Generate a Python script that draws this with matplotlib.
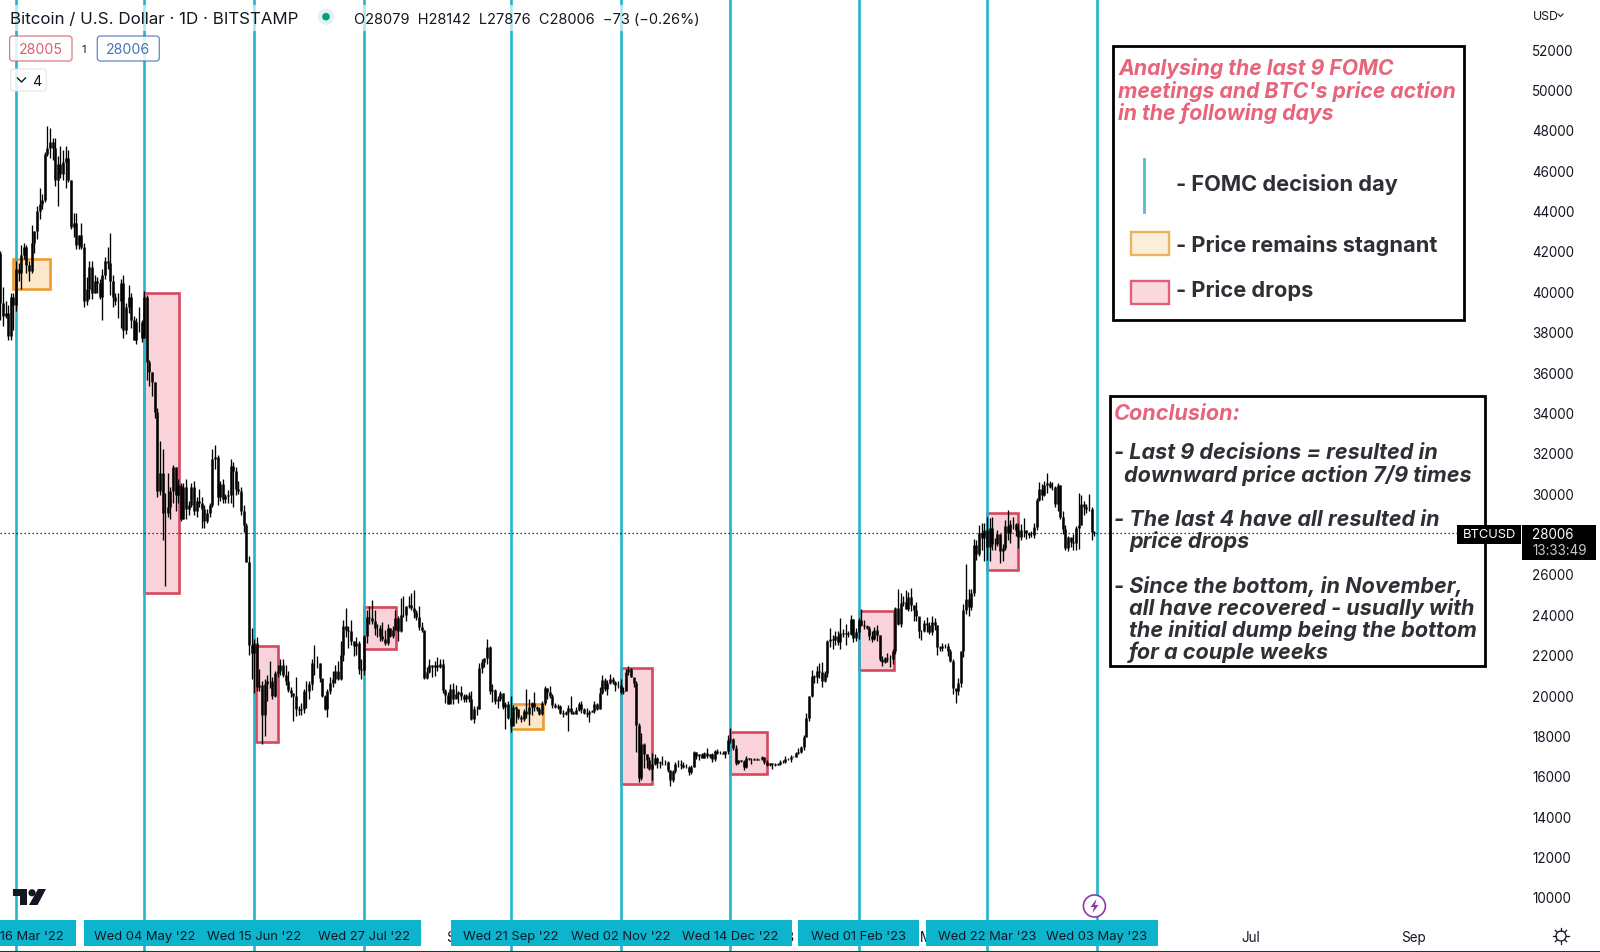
import matplotlib
matplotlib.use('Agg')
import matplotlib.pyplot as plt
import numpy as np
import pandas as pd
from matplotlib.patches import Circle, FancyBboxPatch, Polygon, Rectangle
from matplotlib.transforms import Affine2D, blended_transform_factory

W, H = 1600, 953
START = pd.Timestamp('2022-03-16')  # day 0 of the x axis

closes = [
    39400, 38800, 38900, 37800, 39700, 39300, 41100, 40900, 41800, 42200, 41300, 41000, 42400, 43000, 44000, 44300, 44500, 46800, 47100, 47400, 47100, 45500,
    46300, 45800, 46400, 46600, 45500, 43200, 43400, 42300, 42800, 42200, 39500, 40100, 41200, 39900, 40500, 40400, 39700, 40800, 41500, 41400, 40500, 39700, 39500, 39500, 40400, 38100, 39200, 39700, 38600, 37600,
    38500, 38500, 37700, 39700, 36500, 36000, 35500, 34000, 30100, 31000, 29000, 29000, 29300, 30100, 31300, 29900, 30400, 28700, 30300, 29200, 29400, 30300, 29100, 29600, 29500, 29200, 28600, 29000, 29400, 31700, 31800,
    29800, 30450, 29700, 29850, 29900, 31350, 31100, 30200, 30100, 29100, 28400, 26600, 22500, 22100, 22600, 20400, 20500, 19000, 20550, 20700, 20700, 19950, 21100, 21200, 21500, 21000, 20700, 20250, 20100, 19950,
    19300, 19250, 19300, 20200, 20200, 20550, 21600, 21600, 21600, 20850, 19950, 19300, 20200, 20600, 20800, 21200, 20800, 22000, 23400, 23200, 23150, 22700, 22450, 22600, 21300, 21250, 22950, 23850, 23800, 23650, 23300,
    23300, 22950, 22800, 22600, 23300, 22950, 23200, 23800, 23150, 23950, 23950, 24400, 24450, 24300, 24100, 23850, 23350, 23200, 20850, 21150, 21500, 21400, 21500, 21400, 21550, 20250, 20000, 19550, 20300, 19800, 20050,
    20130, 19950, 19830, 19990, 19800, 18800, 19290, 19320, 21360, 21650, 21830, 22400, 20180, 20240, 19700, 19800, 20100, 19420, 19540, 18880, 18490, 19400, 19300, 18920, 18800, 19220, 19080, 19410, 19590, 19420,
    19310, 19050, 19620, 20340, 20160, 19960, 19530, 19420, 19440, 19130, 19060, 19150, 19380, 19180, 19070, 19260, 19550, 19330, 19130, 19040, 19160, 19200, 19570, 19330, 20090, 20770, 20290, 20600, 20820, 20630, 20490,
    20480, 20150, 20210, 21150, 21300, 20920, 20600, 18540, 15880, 17600, 17070, 16800, 16330, 16610, 16900, 16660, 16690, 16700, 16700, 16280, 15780, 16220, 16600, 16600, 16520, 16460, 16430, 16210, 16440, 17170,
    16970, 17090, 16890, 17110, 16970, 17090, 16840, 17230, 17130, 17130, 17090, 17210, 17780, 17810, 17360, 16630, 16780, 16740, 16440, 16900, 16820, 16830, 16780, 16840, 16840, 16920, 16700, 16550, 16630, 16600, 16540,
    16610, 16670, 16670, 16850, 16830, 16950, 16940, 17120, 17180, 17440, 17940, 18850, 19930, 20960, 20880, 21180, 21130, 20680, 21070, 22670, 22780, 22710, 22920, 22630, 23060, 23010, 23080, 23030, 23750, 22840, 23130,
    23730, 23490, 23430, 23330, 22930, 22760, 23240, 22960, 21800, 21630, 21860, 21780, 21780, 22200, 24330, 23520, 24570, 24630, 24280, 24840, 24440, 24190, 23940, 23180, 23160, 23560, 23490, 23130,
    23640, 23470, 22360, 22350, 22430, 22410, 22200, 21700, 20360, 20190, 20620, 22160, 24200, 24770, 24380, 25050, 27420, 26970, 28040, 27790, 28170, 27310, 28300, 27490, 27490, 28000, 27140, 27270, 28350, 28030, 28470,
    28470, 28190, 27810, 28170, 28170, 28040, 27920, 27950, 28330, 29650, 30230, 29900, 30400, 30490, 30320, 30320, 29440, 30390, 28820, 28250, 27270, 27820, 27590, 27510, 28300, 28420, 29470, 29340, 29230, 29230,
    28079, 28006,
]
highs = [
    42000, 40200, 39500, 39300, 39900, 39900, 41500, 41400, 42300, 42400, 42300, 41500, 43300, 43000, 44200, 45100, 44800, 46900, 48200, 48100, 47600, 47600,
    46700, 47200, 47000, 47200, 47000, 45500, 43900, 43900, 42800, 43400, 42400, 40700, 41500, 41500, 40800, 40700, 40600, 41100, 41700, 42200, 42900, 40800, 39900, 39900, 40600, 40800, 39400, 40300, 39900, 38800,
    38700, 39200, 38600, 40000, 39800, 36600, 36000, 35500, 34200, 32600, 32200, 30000, 31000, 30300, 31400, 31300, 30700, 30500, 30500, 30700, 29600, 30500, 30600, 29800, 30200, 29800, 29400, 29200, 29500, 32200, 32400,
    31900, 30600, 30700, 29950, 30150, 31700, 31550, 31300, 30600, 30300, 29400, 28500, 26900, 23300, 22800, 22900, 21300, 20700, 20800, 21000, 21700, 20900, 21200, 21500, 21800, 21800, 21500, 21200, 20400, 20100,
    20900, 19450, 19600, 20300, 20700, 20700, 21800, 22500, 21950, 21600, 20800, 20000, 20300, 20900, 21200, 21500, 21700, 22700, 23700, 24300, 23400, 23700, 22700, 22900, 22700, 21800, 23000, 24200, 24400, 24700, 24200,
    23500, 23450, 23600, 23200, 23500, 23300, 23400, 24200, 23900, 24800, 24900, 24400, 24900, 25050, 25200, 24200, 24400, 23600, 23200, 21400, 21800, 21500, 21700, 21900, 21800, 21800, 20300, 20150, 20550, 20600, 20500,
    20200, 20450, 20050, 20050, 20150, 20200, 19450, 19450, 21600, 21800, 21850, 22800, 22450, 20550, 20300, 19950, 20200, 20100, 19650, 19700, 19950, 19500, 19480, 19300, 19000, 19300, 20300, 19800, 19650, 20150,
    19480, 19400, 19700, 20450, 20350, 20450, 20050, 19600, 19550, 19500, 19250, 19220, 19500, 19950, 19200, 19400, 19650, 19700, 19350, 19350, 19250, 19250, 19700, 19600, 20400, 21000, 20850, 20750, 21050, 20900, 20700,
    20700, 20800, 20400, 21300, 21450, 21350, 20700, 20700, 18600, 18100, 17650, 17100, 16950, 17150, 17100, 16950, 16750, 17000, 16800, 16750, 16300, 16300, 16700, 16800, 16800, 16700, 16600, 16500, 16550, 17250,
    17200, 17100, 17150, 17200, 17400, 17100, 17140, 17300, 17350, 17230, 17250, 17250, 18000, 18350, 17850, 17530, 16800, 16800, 16800, 17000, 16900, 16900, 16880, 16870, 16850, 17000, 16950, 16780, 16650, 16650, 16630,
    16630, 16770, 16760, 17000, 16880, 17020, 16960, 17180, 17400, 17500, 18000, 19100, 19950, 21250, 21000, 21450, 21600, 21650, 21200, 22730, 23300, 23000, 23150, 23150, 23800, 23250, 23500, 23150, 23950, 23780, 23300,
    23800, 24250, 23700, 23480, 23430, 23150, 23350, 23450, 23000, 21950, 21900, 22100, 21990, 22300, 24380, 25250, 25050, 24900, 25190, 25100, 25280, 24470, 24600, 23880, 23200, 23700, 23880, 23600,
    23900, 23800, 23480, 22420, 22600, 22550, 22600, 22300, 21800, 20300, 20830, 22200, 24500, 26500, 25250, 25250, 27750, 27700, 28400, 28500, 28500, 28800, 28750, 28800, 27800, 28200, 28000, 27500, 28650, 29170, 28650,
    28800, 28500, 28500, 28450, 28750, 28200, 28100, 28150, 28500, 29750, 30550, 30450, 30600, 31000, 30600, 30550, 30350, 30500, 30400, 29100, 28400, 27900, 27800, 28000, 28350, 30000, 29900, 29600, 29450, 29950,
    29300, 28142,
]
lows = [
    38600, 38300, 38700, 37600, 37600, 38100, 39000, 40500, 40100, 41600, 40900, 40500, 40900, 41900, 42600, 43600, 44100, 44400, 46700, 46600, 46500, 45200,
    44200, 45600, 45500, 45100, 45400, 43100, 42700, 42100, 42100, 42100, 39200, 39300, 39600, 39600, 39900, 39900, 39600, 38600, 40600, 41100, 39800, 39200, 39300, 38700, 38200, 37700, 37900, 38900, 38200, 37600,
    37400, 38000, 37500, 37700, 35600, 35300, 34800, 33700, 29800, 29900, 27700, 25400, 28800, 28700, 29500, 29100, 29500, 28600, 28700, 28700, 28900, 29300, 28900, 28800, 29300, 28300, 28300, 28500, 28800, 29300, 31200,
    29400, 29600, 29500, 29500, 29500, 29500, 29300, 29900, 29950, 28900, 28100, 26600, 22000, 20800, 20100, 20200, 20200, 17600, 17950, 19700, 20350, 19800, 19900, 20900, 21000, 20900, 20500, 20150, 19900, 18700,
    18950, 19000, 19000, 19100, 19350, 19800, 20250, 21000, 21350, 20650, 19900, 19250, 18900, 20050, 20400, 20600, 20750, 20750, 21700, 22900, 22350, 22500, 21950, 22000, 21050, 20800, 21000, 22600, 23500, 23500, 23000,
    22900, 22700, 22700, 22500, 22500, 22900, 22850, 23200, 22700, 23100, 23850, 23650, 24300, 24200, 23800, 23700, 23200, 23100, 20800, 20800, 21100, 20900, 20950, 21200, 21350, 20100, 19600, 19550, 19600, 19550, 19900,
    19600, 19750, 19650, 19650, 19650, 18750, 18600, 19000, 19300, 21100, 21400, 21550, 20050, 19650, 19550, 19350, 19700, 19300, 18300, 18800, 18150, 18500, 18600, 18800, 18650, 18700, 18850, 18500, 19000, 19200,
    19200, 19000, 19000, 19500, 19800, 19850, 19350, 19350, 19300, 19050, 18900, 19000, 18200, 19050, 19050, 19050, 19200, 19100, 19050, 18900, 18650, 19150, 19100, 19250, 19300, 20050, 20200, 20000, 20550, 20550, 20200,
    20350, 20050, 20050, 20200, 21000, 20900, 20400, 17200, 15700, 15800, 16400, 16400, 16300, 15800, 16550, 16400, 16400, 16550, 16550, 16200, 15500, 15700, 16150, 16450, 16350, 16400, 16400, 16050, 16100, 16450,
    16850, 16800, 16880, 16890, 16900, 16900, 16700, 16750, 17100, 17100, 17070, 16900, 17100, 17650, 17300, 16550, 16600, 16700, 16300, 16400, 16800, 16600, 16780, 16800, 16780, 16800, 16600, 16500, 16480, 16350, 16470,
    16520, 16550, 16620, 16650, 16770, 16680, 16910, 16910, 17100, 17150, 17300, 17900, 18700, 19900, 20600, 20600, 20870, 20400, 20650, 20900, 22400, 22300, 22500, 22500, 22300, 22900, 22500, 22900, 23000, 22650, 22700,
    22800, 23400, 23250, 23250, 22750, 22650, 22750, 22700, 21700, 21450, 21600, 21650, 21380, 21550, 22050, 23480, 23350, 24400, 24250, 24170, 24150, 23650, 23650, 22850, 22750, 23100, 23100, 23050,
    23000, 23200, 22000, 22200, 22200, 22350, 21950, 21650, 20050, 19600, 20000, 20400, 21900, 24000, 23900, 24200, 24900, 26700, 26900, 27200, 26650, 26700, 26650, 27200, 27200, 27400, 26550, 26650, 27200, 27700, 27550,
    28250, 27900, 27300, 27700, 27850, 27750, 27800, 27850, 27800, 28200, 29600, 29650, 29850, 30000, 30250, 30150, 29300, 29100, 28700, 28000, 27200, 27150, 27350, 27200, 27200, 27250, 28400, 28900, 29000, 29100,
    27700, 27876,
]
first_open = 41900
last_price = 28006

fomc_dates = ['2022-03-16', '2022-05-04', '2022-06-15', '2022-07-27', '2022-09-21', '2022-11-02', '2022-12-14', '2023-02-01', '2023-03-22', '2023-05-03']
fomc_labels = ["Wed 16 Mar '22", "Wed 04 May '22", "Wed 15 Jun '22", "Wed 27 Jul '22", "Wed 21 Sep '22", "Wed 02 Nov '22", "Wed 14 Dec '22", "Wed 01 Feb '23", "Wed 22 Mar '23", "Wed 03 May '23"]

# box per meeting: first day, last day, top price, bottom price
box_start = [-1.3, 49, 91.8, 133, 189, 231, 273, 322, 371]
box_end = [13.1, 62.2, 100.2, 145.2, 201.2, 243.2, 287.1, 335.5, 383]
box_top = [41620, 39900, 22420, 24350, 19550, 21330, 18190, 24180, 29020]
box_bottom = [40120, 25080, 17670, 22260, 18300, 15580, 16070, 21220, 26210]
box_kind = ['flat', 'drop', 'drop', 'drop', 'flat', 'drop', 'drop', 'drop', 'drop']

price_ticks = list(range(10000, 54000, 2000))
time_tick_dates = ['2022-05-01', '2022-07-01', '2022-09-01', '2022-11-01', '2023-01-01', '2023-03-01', '2023-05-01', '2023-07-01', '2023-09-01']
time_tick_labels = ['May', 'Jul', 'Sep', 'Nov', '2023', 'Mar', 'May', 'Jul', 'Sep']

title_lines = ['Analysing the last 9 FOMC', "meetings and BTC's price action", 'in the following days']
conclusion_lines = [
    (1114, 459.3, '- Last 9 decisions = resulted in'),
    (1124, 481.7, 'downward price action 7/9 times'),
    (1114, 526, '- The last 4 have all resulted in'),
    (1129, 548.3, 'price drops'),
    (1114, 592.7, '- Since the bottom, in November,'),
    (1129, 615, 'all have recovered - usually with'),
    (1129, 637.3, 'the initial dump being the bottom'),
    (1129, 659.3, 'for a couple weeks'),
]

TEAL = '#22b6ca'
CHIP = '#0db4ce'
RED_TEXT = '#e8647b'
DARK_TEXT = '#2e3035'
INK = '#131722'
BOX_STYLE = {'drop': ('#f9d3d9', '#d6485e'), 'flat': ('#fde7cb', '#ee9c2f')}

plt.rcParams['font.family'] = ['Inter', 'DejaVu Sans']

fig = plt.figure(figsize=(W / 100, H / 100), dpi=100)
ax = fig.add_axes([0, 0, 1, 1])

# 2.617 px per day, day 0 at px 16; 20.19 px per 1000 USD, 52000 at px 50
ax.set_xlim(-16 / 2.617, (W - 16) / 2.617)
ax.set_ylim(52000 - (H - 50) / 20.19 * 1000, 52000 + 50 / 20.19 * 1000)

px = Affine2D().scale(1 / W, -1 / H).translate(0, 1) + fig.transFigure
day_px = blended_transform_factory(ax.transData, px)


def day_of(date):
    return (pd.Timestamp(date) - START).days


def label(x, y, s, **kw):
    kw.setdefault('va', 'baseline')
    kw.setdefault('zorder', 12)
    ax.text(x, y, s, transform=px, clip_on=False, **kw)


def rect(x0, y0, x1, y1, fc, ec='none', lw=0, zorder=10, **kw):
    ax.add_patch(Rectangle((x0, y0), x1 - x0, y1 - y0, transform=px, fc=fc, ec=ec, lw=lw, zorder=zorder, clip_on=False, **kw))


def chip(x0, y0, x1, y1, ec, fc='white', alpha=0.85):
    ax.add_patch(FancyBboxPatch((x0, y0), x1 - x0, y1 - y0, boxstyle='round,pad=0,rounding_size=3', transform=px,
                                fc=fc, ec=ec, lw=0.9, zorder=11, clip_on=False, alpha=alpha))


# candles
closes = np.array(closes)
highs = np.array(highs)
lows = np.array(lows)
days = np.arange(len(closes)) - 6
opens = np.r_[first_open, closes[:-1]]

for i in range(len(box_start)):
    fill, edge = BOX_STYLE[box_kind[i]]
    ax.add_patch(Rectangle((box_start[i], box_bottom[i]), box_end[i] - box_start[i], box_top[i] - box_bottom[i],
                           fc=fill, ec=edge, lw=1.9, zorder=1))

for date in fomc_dates:
    ax.axvline(day_of(date), color=TEAL, lw=1.9, zorder=1.5)

ax.vlines(days, lows, highs, color='black', lw=0.95, zorder=2)
ax.vlines(days, np.minimum(opens, closes), np.maximum(opens, closes), color='black', lw=1.8, zorder=2)

# axes
ax.set_axisbelow(True)
for side in ['top', 'left', 'right']:
    ax.spines[side].set_visible(False)
ax.spines['bottom'].set_color('#2a2e39')
ax.spines['bottom'].set_linewidth(2.2)
ax.yaxis.tick_right()
ax.set_yticks(price_ticks)
ax.set_yticklabels([str(p) for p in price_ticks])
ax.tick_params(axis='y', length=0, pad=-49, labelsize=9.7, labelcolor=INK)
ax.set_xticks([day_of(d) for d in time_tick_dates])
ax.set_xticklabels(time_tick_labels)
ax.tick_params(axis='x', length=0, pad=-15.5, labelsize=9.7, labelcolor=INK)

# date chips on the time scale
for x0, x1 in [(0, 76), (83.5, 421), (451, 792), (798, 919), (926, 1158)]:
    rect(x0, 921, x1, 947, CHIP, zorder=6)
for date, text in zip(fomc_dates, fomc_labels):
    ax.text(day_of(date), 937, text, transform=day_px, ha='center', va='center', fontsize=9.35, color=INK, zorder=7)

# last price
ax.axhline(last_price, xmax=1457 / W, color='black', lw=0.9, ls=(0, (1, 2.2)), zorder=11)
rect(1457, 526, 1521, 544.5, 'black', zorder=13)
rect(1522, 526, 1596, 560.5, 'black', zorder=13)
label(1489, 535.5, 'BTCUSD', color='white', fontsize=9.3, ha='center', va='center', zorder=14)
label(1532, 535.5, str(last_price), color='white', fontsize=9.7, va='center', zorder=14)
label(1532, 551, '13:33:49', color='#c8c8c8', fontsize=9.7, va='center', zorder=14)

# legend box
rect(1112.5, 47, 1464, 320.5, 'white', 'black', 2, zorder=8)
for y, line in zip([75, 97.7, 119.7], title_lines):
    label(1118.5, y, line, color=RED_TEXT, fontsize=15.3, fontweight='bold', fontstyle='italic')
ax.plot([1144.3, 1144.3], [160, 213], transform=px, color='#4cc0cc', lw=2, zorder=12, clip_on=False)
rect(1130.5, 233, 1168.5, 256, '#fdeeda', '#edb25e', 1.7, zorder=12)
rect(1130.5, 282, 1168.5, 304.5, '#fad9de', '#e0607a', 1.7, zorder=12)
label(1176, 191, '- FOMC decision day', color=DARK_TEXT, fontsize=15.7, fontweight='bold')
label(1176, 251.7, '- Price remains stagnant', color=DARK_TEXT, fontsize=15.7, fontweight='bold')
label(1176, 296.7, '- Price drops', color=DARK_TEXT, fontsize=15.7, fontweight='bold')

# conclusion box
rect(1109.5, 397, 1485, 666.5, 'white', 'black', 2, zorder=8)
label(1114, 420, 'Conclusion:', color=RED_TEXT, fontsize=15.55, fontweight='bold', fontstyle='italic')
for x, y, line in conclusion_lines:
    label(x, y, line, color=DARK_TEXT, fontsize=15.55, fontweight='bold', fontstyle='italic')

# header
rect(0, 6, 705, 32, 'white', alpha=0.65, zorder=9)
label(10, 19.5, 'Bitcoin / U.S. Dollar · 1D · BITSTAMP', color=INK, fontsize=12.2, va='center')
ax.add_patch(Circle((326, 17.7), 8, transform=px, fc='#089981', alpha=0.12, zorder=10, clip_on=False))
ax.add_patch(Circle((326, 17.7), 3.8, transform=px, fc='#089981', zorder=11, clip_on=False))
label(354.5, 20.5, 'O28079  H28142  L27876  C28006  −73 (−0.26%)', color=INK, fontsize=10.5, va='center')

chip(9.6, 37, 72, 62, '#d9606e')
label(40.8, 50.5, '28005', color='#d9606e', fontsize=10.2, ha='center', va='center')
label(84, 50, '1', color=INK, fontsize=8, ha='center', va='center')
chip(97.3, 37, 159.3, 62, '#4a72b8')
label(128.3, 50.5, '28006', color='#4a72b8', fontsize=10.2, ha='center', va='center')
chip(10.6, 70, 46.4, 92, '#e0e3eb')
ax.plot([17.5, 21.5, 25.5], [79, 83, 79], transform=px, color=INK, lw=1, zorder=12, clip_on=False)
label(36.5, 81.5, '4', color=INK, fontsize=10.2, ha='center', va='center')

label(1533, 17, 'USD', color=INK, fontsize=8.8, va='center')
ax.plot([1558, 1560.5, 1563], [15, 17.5, 15], transform=px, color=INK, lw=0.8, zorder=12, clip_on=False)

# tradingview logo
ax.add_patch(Polygon([(13, 890), (27, 890), (27, 906), (20, 906), (20, 897), (13, 897)], transform=px, fc=INK, zorder=5, clip_on=False))
ax.add_patch(Circle((32, 893.8), 3.6, transform=px, fc=INK, zorder=5, clip_on=False))
ax.add_patch(Polygon([(38, 890), (46, 890), (37.5, 906), (29, 906)], transform=px, fc=INK, zorder=5, clip_on=False))

# lightning marker
ax.add_patch(Circle((1094.4, 907), 11, transform=px, fc='white', ec='#8e3aa8', lw=1.2, zorder=8, clip_on=False))
ax.add_patch(Polygon([(1096.5, 900), (1090.5, 908), (1094, 908), (1092.5, 914), (1098.5, 906), (1095, 906)],
                     transform=px, fc='#8e3aa8', zorder=9, clip_on=False))

# settings icon
ax.add_patch(Circle((1561, 937), 5, transform=px, fc='white', ec=INK, lw=0.9, zorder=8, clip_on=False))
for a in np.deg2rad(np.arange(0, 360, 45)):
    ax.plot([1561 + 5 * np.cos(a), 1561 + 8 * np.cos(a)], [937 + 5 * np.sin(a), 937 + 8 * np.sin(a)],
            transform=px, color=INK, lw=0.9, zorder=8, clip_on=False)

fig.savefig('out.png', dpi=100, facecolor='white')
